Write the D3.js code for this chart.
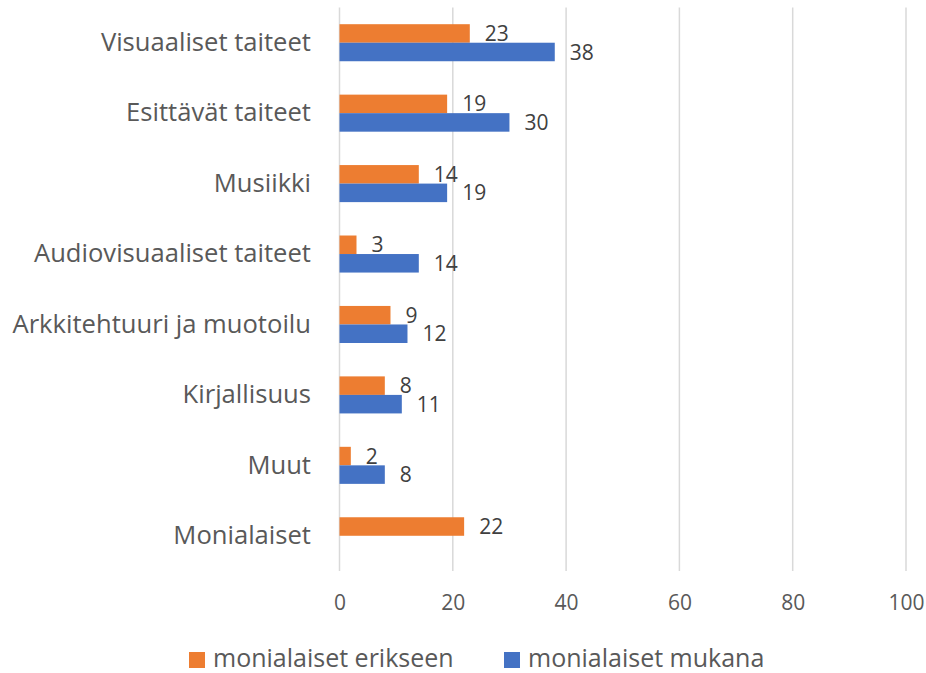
<!DOCTYPE html>
<html><head><meta charset="utf-8">
<script src="https://cdn.jsdelivr.net/npm/d3@7"></script>
<style>body{margin:0;background:#fff;} svg{display:block;font-family:"Open Sans",sans-serif;}</style>
</head><body><svg id="c" width="926" height="673"></svg>
<script>
const categories = ["Visuaaliset taiteet","Esittävät taiteet","Musiikki","Audiovisuaaliset taiteet","Arkkitehtuuri ja muotoilu","Kirjallisuus","Muut","Monialaiset"];
const erikseen = [23,19,14,3,9,8,2,22];
const mukana = [38,30,19,14,12,11,8,null];
const seriesNames = ["monialaiset erikseen","monialaiset mukana"];
const colors = ["#ED7D31","#4472C4"];
const ticks = [0,20,40,60,80,100];

const FONT = "'Open Sans',sans-serif";
const svg = d3.select("#c");
const x = d3.scaleLinear().domain([0,100]).range([339.5,906]);
const y = d3.scaleBand().domain(categories).range([7.5,571]).padding(0);
const barH = y.bandwidth()*0.263;

svg.append("g").selectAll("line").data(ticks).join("line")
  .attr("x1",d=>x(d)).attr("x2",d=>x(d)).attr("y1",7.5).attr("y2",571)
  .attr("stroke","#d9d9d9").attr("stroke-width",1.5);

const xa = svg.append("g").attr("transform","translate(0,609.5)")
  .call(d3.axisBottom(x).tickValues(ticks).tickSize(0).tickPadding(0));
xa.select(".domain").remove();
xa.selectAll("text").attr("font-size",21).attr("fill","#595959").attr("font-family",FONT).attr("dy","0").attr("y",0);

const ya = svg.append("g").attr("transform","translate(311,0)")
  .call(d3.axisLeft(y).tickSize(0).tickPadding(0));
ya.select(".domain").remove();
ya.selectAll("text").attr("font-size",25.6).attr("fill","#595959").attr("font-family",FONT);

const seriesData = [erikseen, mukana];
seriesData.forEach((vals,si)=>{
  const data = categories.map((c,i)=>({c, v: vals[i]})).filter(d=>d.v!=null);
  const g = svg.append("g");
  const yPos = d => y(d.c)+y.bandwidth()/2 + (si===0 ? -barH : 0);
  g.selectAll("rect").data(data).join("rect")
    .attr("x",x(0)).attr("y",yPos)
    .attr("width",d=>x(d.v)-x(0)).attr("height",barH)
    .attr("fill",colors[si]);
  g.selectAll("text").data(data).join("text")
    .attr("x",d=>x(d.v)+15).attr("y",d=>yPos(d)+barH/2)
    .attr("dy","0.36em").attr("font-size",21).attr("fill","#404040")
    .text(d=>d.v);
});

const leg = svg.append("g");
const legX = [189,504];
seriesNames.forEach((n,i)=>{
  leg.append("rect").attr("x",legX[i]).attr("y",652).attr("width",16).attr("height",16).attr("fill",colors[i]);
  leg.append("text").attr("x",legX[i]+24).attr("y",666.5)
    .attr("font-size",25).attr("fill","#595959").text(n);
});
</script></body></html>
